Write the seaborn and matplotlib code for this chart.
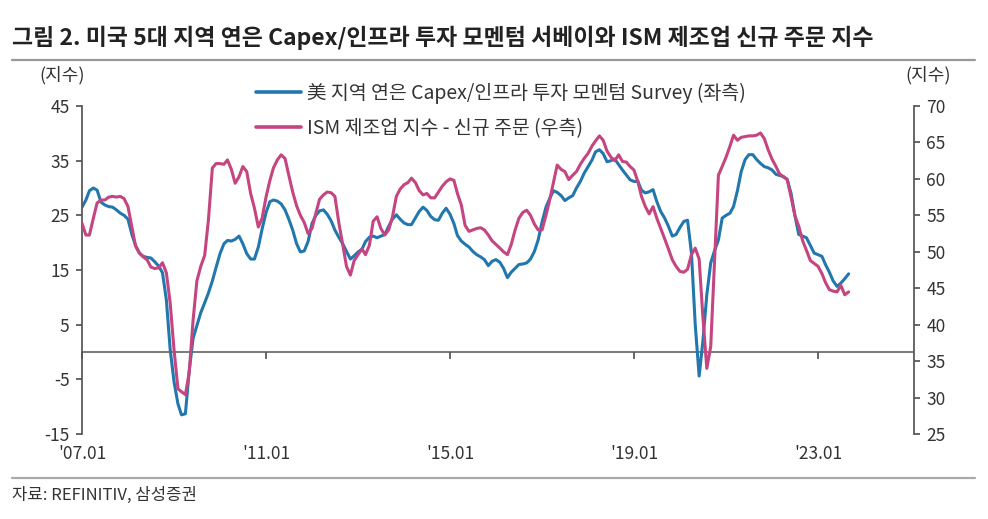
import matplotlib
matplotlib.use("Agg")
import matplotlib.pyplot as plt
import matplotlib.dates as mdates
from matplotlib.lines import Line2D
import pandas as pd
import seaborn as sns

# monthly readings, Jan 2007 onward
capex_survey = [
    26.5, 27.8, 29.5, 30.0, 29.6, 27.4, 26.9, 26.6, 26.5, 26.0, 25.4, 25.0,
    24.3, 21.5, 19.5, 18.1, 17.5, 17.3, 17.2, 16.5, 15.7, 14.5, 9.5, 0.5,
    -5.5, -9.5, -11.5, -11.3, -3.5, 2.5, 4.8, 7.2, 9.0, 10.8, 13.0, 15.5,
    18.0, 19.8, 20.4, 20.3, 20.6, 21.2, 19.8, 18.0, 17.0, 17.0, 19.2, 22.5,
    25.5, 27.5, 27.8, 27.6, 27.1, 26.0, 24.3, 22.3, 19.8, 18.3, 18.5, 20.2,
    23.5, 25.0, 25.8, 26.0, 25.2, 24.0, 22.3, 21.0, 19.8, 18.4, 17.0, 17.6,
    18.3, 18.8, 20.2, 21.0, 21.2, 20.9, 21.2, 21.5, 23.0, 24.3, 25.1, 24.3,
    23.6, 23.3, 23.3, 24.5, 25.7, 26.5, 25.9, 24.8, 24.2, 24.1, 25.4, 26.3,
    25.2, 23.5, 21.3, 20.3, 19.7, 19.2, 18.4, 17.8, 17.4, 16.9, 15.8, 16.6,
    16.9, 16.4, 15.3, 13.6, 14.6, 15.3, 16.0, 16.1, 16.3, 17.0, 18.4, 20.5,
    23.8, 26.5, 28.0, 29.5, 29.2, 28.6, 27.7, 28.2, 28.6, 30.0, 31.2, 32.7,
    33.9, 35.1, 36.6, 37.0, 36.3, 34.8, 35.0, 35.3, 34.3, 33.3, 32.4, 31.5,
    31.2, 31.2, 29.6, 29.1, 29.3, 29.7, 27.5, 25.7, 24.5, 23.0, 21.2, 21.5,
    22.8, 23.9, 24.1, 18.1, 5.0, -4.4, 2.0, 10.5, 16.3, 18.5, 20.5, 24.5,
    25.0, 25.4, 26.6, 29.5, 33.0, 35.2, 36.1, 36.1, 35.2, 34.5, 33.9, 33.7,
    33.3, 32.5, 32.3, 32.1, 31.6, 29.0, 25.0, 21.5, 21.2, 20.9, 19.5, 18.1,
    17.8, 17.5, 16.0, 14.6, 13.0, 12.0, 12.6, 13.4, 14.3,
]
ism_new_orders = [
    53.9, 52.3, 52.3, 54.6, 56.7, 57.1, 57.1, 57.5, 57.6, 57.5, 57.6, 57.3,
    56.2, 53.4, 50.8, 49.8, 49.3, 48.9, 47.9, 47.7, 47.8, 48.5, 47.1, 43.0,
    36.5, 31.2, 30.8, 30.4, 33.4, 40.6, 46.0, 48.0, 49.5, 54.4, 61.5, 62.1,
    62.1, 62.0, 62.6, 61.3, 59.4, 60.3, 61.7, 61.0, 58.0, 56.0, 53.4, 54.6,
    57.5, 59.8, 61.5, 62.6, 63.3, 62.8, 60.5, 58.2, 56.3, 55.0, 54.0, 52.5,
    53.2, 55.3, 57.2, 57.8, 58.2, 58.1, 57.6, 54.0, 51.0, 48.0, 46.8, 48.8,
    49.6, 50.4, 49.6, 50.9, 54.2, 54.8, 53.2, 52.3, 53.0, 54.8, 57.6, 58.6,
    59.2, 59.5, 60.1, 59.5, 58.4, 57.8, 58.0, 57.4, 57.4, 58.2, 59.0, 59.6,
    60.0, 59.8, 58.0, 56.4, 53.6, 52.8, 53.0, 53.2, 53.3, 53.0, 52.3, 51.5,
    51.0, 50.5, 50.0, 49.6, 51.0, 53.0, 54.6, 55.4, 55.7, 55.0, 53.8, 53.0,
    53.0, 55.0, 57.0, 59.5, 61.9, 61.3, 61.0, 59.9, 60.5, 61.0, 62.0, 62.8,
    63.5, 64.5, 65.2, 65.9, 65.3, 63.8, 63.0, 62.5, 63.3, 62.4, 62.3, 61.7,
    61.2, 59.6, 57.6, 56.2, 55.2, 56.2, 54.6, 53.2, 51.8, 50.4, 48.9, 48.0,
    47.3, 47.2, 47.6, 49.6, 50.5, 49.0, 41.0, 34.0, 37.0, 48.5, 60.5, 61.7,
    63.0, 64.5, 66.0, 65.3, 65.7, 65.8, 65.9, 65.9, 66.0, 66.3, 65.5, 64.0,
    62.7, 61.7, 60.7, 60.3, 59.9, 57.5, 55.0, 53.5, 51.5, 50.2, 48.8, 48.4,
    48.0, 47.0, 45.8, 44.8, 44.6, 44.5, 45.4, 44.1, 44.5,
]
start_month = "2007-01-01"

tick_dates = ["2007-01-01", "2011-01-01", "2015-01-01", "2019-01-01", "2023-01-01"]
tick_labels = ["'07.01", "'11.01", "'15.01", "'19.01", "'23.01"]
left_ticks = [45, 35, 25, 15, 5, -5, -15]
right_ticks = [70, 65, 60, 55, 50, 45, 40, 35, 30, 25]

title = "그림 2. 미국 5대 지역 연은 Capex/인프라 투자 모멘텀 서베이와 ISM 제조업 신규 주문 지수"
label_blue = "美 지역 연은 Capex/인프라 투자 모멘텀 Survey (좌측)"
label_pink = "ISM 제조업 지수 - 신규 주문 (우측)"
source = "자료: REFINITIV, 삼성증권"

BLUE = "#2277ad"
PINK = "#c4457f"
AXC = "#555555"
TXT = "#333333"

sns.set_theme(style="white")
plt.rcParams["font.family"] = ["Noto Sans CJK KR", "DejaVu Sans"]

df_blue = pd.DataFrame({
    "date": pd.date_range(start_month, periods=len(capex_survey), freq="MS"),
    "value": capex_survey,
})
df_pink = pd.DataFrame({
    "date": pd.date_range(start_month, periods=len(ism_new_orders), freq="MS"),
    "value": ism_new_orders,
})

fig = plt.figure(figsize=(9.88, 5.19), dpi=100)
ax = fig.add_axes([82 / 988, 1 - 434 / 519, (914 - 82) / 988, (434 - 106) / 519])
ax2 = ax.twinx()

sns.lineplot(data=df_blue, x="date", y="value", ax=ax, color=BLUE, lw=2.2, label=label_blue, legend=False)
sns.lineplot(data=df_pink, x="date", y="value", ax=ax2, color=PINK, lw=2.2, label=label_pink, legend=False)

xmin, xmax = pd.Timestamp("2007-01-01"), pd.Timestamp("2025-02-01")
ax.set_xlim(xmin, xmax)
ax.set_ylim(-15, 45)
ax2.set_ylim(25, 70)
for a in (ax, ax2):
    a.set_xlabel("")
    a.set_ylabel("")
    a.spines["top"].set_visible(False)
    a.spines["bottom"].set_visible(False)
ax.spines["right"].set_visible(False)
ax2.spines["left"].set_visible(False)
ax.spines["left"].set_color(AXC)
ax2.spines["right"].set_color(AXC)

ax.set_yticks(left_ticks)
ax.set_yticklabels([str(v) for v in left_ticks])
ax2.set_yticks(right_ticks)
ax2.set_yticklabels([str(v) for v in right_ticks])
ax.tick_params(axis="y", left=True, direction="out", length=4, color=AXC, labelsize=12.5, labelcolor=TXT, pad=5)
ax2.tick_params(axis="y", right=True, direction="out", length=4, color=AXC, labelsize=12.5, labelcolor=TXT, pad=5)

ax.set_xticks(pd.to_datetime(tick_dates))
ax.set_xticklabels(tick_labels)
ax.tick_params(axis="x", bottom=True, length=0, labelsize=12.5, labelcolor=TXT, pad=8)

# zero line with small date ticks on it
ax.axhline(0, color=AXC, lw=1.1, zorder=1)
sec = ax.secondary_xaxis(15 / 60)
sec.set_xticks(mdates.date2num(pd.to_datetime(tick_dates)))
sec.tick_params(axis="x", direction="out", length=5, color=AXC, labelbottom=False)
sec.spines["bottom"].set_visible(False)

handles = [Line2D([], [], color=BLUE, lw=2.6), Line2D([], [], color=PINK, lw=2.6)]
fig.legend(handles, [label_blue, label_pink], loc="upper left",
           bbox_to_anchor=(256 / 988, 1 - 83 / 519), frameon=False,
           fontsize=14, handlelength=2.3, handletextpad=0.3,
           labelspacing=0.72, borderpad=0, borderaxespad=0, labelcolor=TXT)

fig.text(12 / 988, 1 - 38 / 519, title, fontsize=16.5, fontweight="bold", color="#222222", va="center")
fig.add_artist(Line2D([12 / 988, 975 / 988], [1 - 60 / 519] * 2, transform=fig.transFigure, color="#999999", lw=1.6))
fig.add_artist(Line2D([12 / 988, 975 / 988], [1 - 478 / 519] * 2, transform=fig.transFigure, color="#aaaaaa", lw=1.6))
fig.text(62 / 988, 1 - 75 / 519, "(지수)", fontsize=13, color=TXT, ha="center", va="center")
fig.text(928 / 988, 1 - 75 / 519, "(지수)", fontsize=13, color=TXT, ha="center", va="center")
fig.text(12 / 988, 1 - 495 / 519, source, fontsize=12, color=TXT, va="center")

fig.savefig("out.png", dpi=100)
